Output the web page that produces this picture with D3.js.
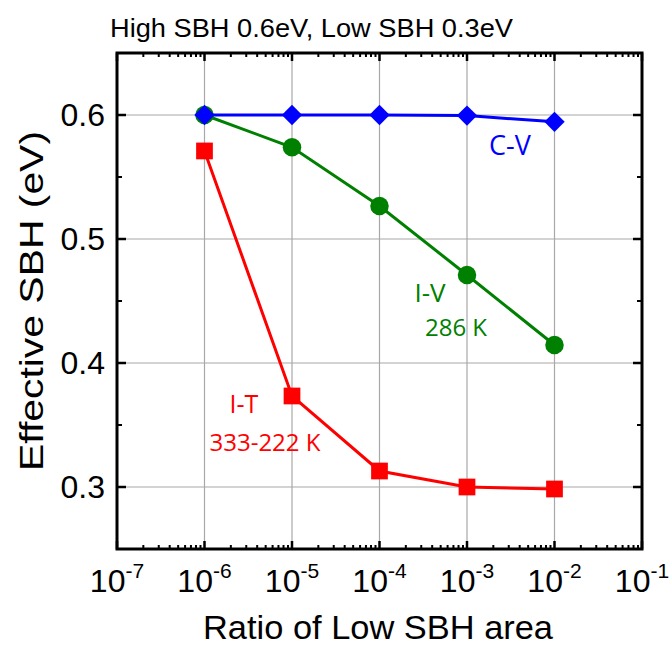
<!DOCTYPE html>
<html>
<head>
<meta charset="utf-8">
<script src="https://cdn.jsdelivr.net/npm/d3@7"></script>
<style>
body{margin:0;background:#fff;}
text{font-family:"Liberation Sans",Arial,sans-serif;}
.lab{font-family:"Open Sans","Noto Sans",sans-serif;}
</style>
</head>
<body>
<svg id="chart"></svg>
<script>
var ratios=[1e-6,1e-5,1e-4,1e-3,1e-2];
var cv=[0.6,0.6,0.6,0.5995,0.5945];
var iv=[0.6,0.574,0.5266,0.471,0.4145];
var it=[0.571,0.3734,0.3129,0.300,0.2984];
var yTicks=[0.3,0.4,0.5,0.6];
var xExps=[-7,-6,-5,-4,-3,-2,-1];

var w=669,h=649;
var margin={left:117,right:27,top:53,bottom:100};
var svg=d3.select("#chart").attr("width",w).attr("height",h);

var xScale=d3.scaleLog().domain([1e-7,1e-1]).range([margin.left,w-margin.right]);
var yScale=d3.scaleLinear().domain([0.25,0.65]).range([h-margin.bottom,margin.top]);

// grid
svg.append("g").selectAll("line").data(xExps.slice(1,-1)).enter().append("line")
   .attr("x1",function(d){return xScale(Math.pow(10,d));})
   .attr("x2",function(d){return xScale(Math.pow(10,d));})
   .attr("y1",margin.top).attr("y2",h-margin.bottom)
   .attr("stroke","#a8a8a8").attr("stroke-width",1.2);
svg.append("g").selectAll("line").data(yTicks).enter().append("line")
   .attr("y1",function(d){return yScale(d);})
   .attr("y2",function(d){return yScale(d);})
   .attr("x1",margin.left).attr("x2",w-margin.right)
   .attr("stroke","#a8a8a8").attr("stroke-width",1.2);

// minor ticks
var minorX=[];
xExps.slice(0,-1).forEach(function(e){for(var k=2;k<10;k++)minorX.push(k*Math.pow(10,e));});
function ticksX(y0,dir){
  var g=svg.append("g");
  g.selectAll(".mn").data(minorX).enter().append("line")
   .attr("x1",function(d){return xScale(d);}).attr("x2",function(d){return xScale(d);})
   .attr("y1",y0).attr("y2",y0+dir*4).attr("stroke","#000").attr("stroke-width",2);
  g.selectAll(".mj").data(xExps).enter().append("line")
   .attr("x1",function(d){return xScale(Math.pow(10,d));}).attr("x2",function(d){return xScale(Math.pow(10,d));})
   .attr("y1",y0).attr("y2",y0+dir*8).attr("stroke","#000").attr("stroke-width",2.5);
}
ticksX(h-margin.bottom,-1);
ticksX(margin.top,1);
var yMinor=[0.25,0.35,0.45,0.55,0.65];
function ticksY(x0,dir){
  var g=svg.append("g");
  g.selectAll(".mn").data(yMinor).enter().append("line")
   .attr("y1",function(d){return yScale(d);}).attr("y2",function(d){return yScale(d);})
   .attr("x1",x0).attr("x2",x0+dir*5).attr("stroke","#000").attr("stroke-width",2);
  g.selectAll(".mj").data(yTicks).enter().append("line")
   .attr("y1",function(d){return yScale(d);}).attr("y2",function(d){return yScale(d);})
   .attr("x1",x0).attr("x2",x0+dir*9).attr("stroke","#000").attr("stroke-width",2.5);
}
ticksY(margin.left,1);
ticksY(w-margin.right,-1);

// frame
svg.append("rect").attr("x",margin.left).attr("y",margin.top)
   .attr("width",w-margin.left-margin.right).attr("height",h-margin.top-margin.bottom)
   .attr("fill","none").attr("stroke","#000").attr("stroke-width",3);

// tick labels
svg.append("g").selectAll("text").data(yTicks).enter().append("text")
   .attr("x",margin.left-12).attr("y",function(d){return yScale(d)+11;})
   .attr("text-anchor","end").attr("font-size",32).text(function(d){return d.toFixed(1);});
var xl=svg.append("g").selectAll("text").data(xExps).enter().append("text")
   .attr("x",function(d){return xScale(Math.pow(10,d));}).attr("y",h-margin.bottom+43)
   .attr("text-anchor","middle").attr("font-size",32);
xl.append("tspan").text("10");
xl.append("tspan").attr("dy",-14).attr("font-size",21).text(function(d){return "-"+(-d);});

// axis titles
svg.append("text").attr("x",378).attr("y",639)
   .attr("text-anchor","middle").attr("font-size",34)
   .attr("textLength",350).attr("lengthAdjust","spacingAndGlyphs").text("Ratio of Low SBH area");
svg.append("text").attr("transform","translate(43,"+(margin.top+(h-margin.top-margin.bottom)/2)+") rotate(-90)")
   .attr("text-anchor","middle").attr("font-size",34)
   .attr("textLength",340).attr("lengthAdjust","spacingAndGlyphs").text("Effective SBH (eV)");
svg.append("text").attr("x",110).attr("y",37).attr("font-size",26)
   .attr("textLength",403).attr("lengthAdjust","spacingAndGlyphs")
   .text("High SBH 0.6eV, Low SBH 0.3eV");

// series
var line=d3.line().x(function(d,i){return xScale(ratios[i]);}).y(function(d){return yScale(d);});
function series(vals,color,sym,size){
  svg.append("path").datum(vals).attr("d",line).attr("fill","none")
     .attr("stroke",color).attr("stroke-width",3);
  svg.append("g").selectAll("path").data(vals).enter().append("path")
     .attr("transform",function(d,i){return "translate("+xScale(ratios[i])+","+yScale(d)+")";})
     .attr("d",d3.symbol().type(sym).size(size)).attr("fill",color);
}
series(it,"#ff0000",d3.symbolSquare,280);
series(iv,"#008000",d3.symbolCircle,270);
series(cv,"#0000ff",d3.symbolDiamond2,265);

// labels
function lab(x,y,t,c,s){svg.append("text").attr("class","lab").attr("x",x).attr("y",y)
   .attr("text-anchor","middle").attr("font-size",s).attr("fill",c).text(t);}
lab(510,155,"C-V","#0000ff",27);
lab(430,302,"I-V","#008000",26);
lab(456,336,"286 K","#008000",24);
lab(244,413,"I-T","#ff0000",25);
lab(265,451,"333-222 K","#ff0000",24);
</script>
</body>
</html>
